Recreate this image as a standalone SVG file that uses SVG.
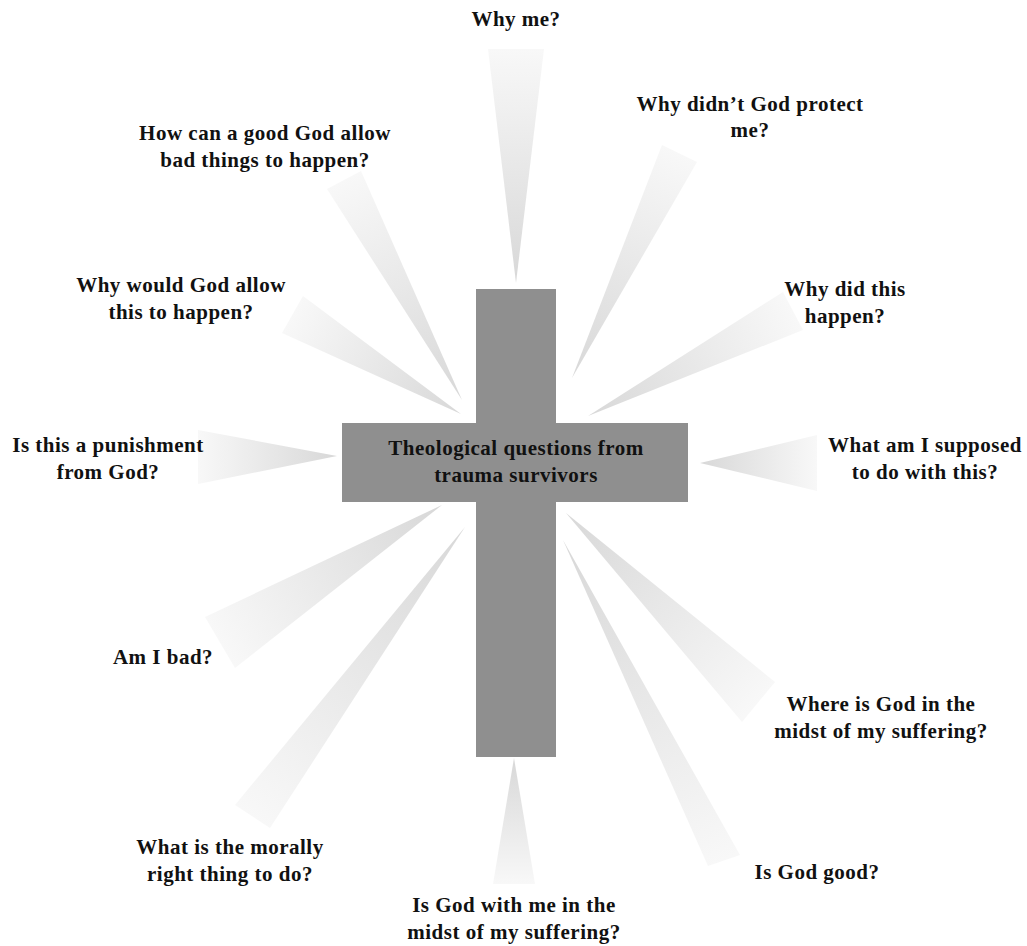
<svg xmlns="http://www.w3.org/2000/svg" xmlns:xlink="http://www.w3.org/1999/xlink" width="1027" height="946" viewBox="0 0 1027 946">
<style>
.t{font-family:"Liberation Serif","Times New Roman",serif;font-weight:bold;font-size:21px;letter-spacing:0.5px;fill:#111;text-anchor:middle}
.ray{stroke:none}
.cross{fill:#8f8f8f}
</style>
<defs>
<linearGradient id="g"><stop offset="0" stop-color="#f8f8f8"/><stop offset="1" stop-color="#d8d8d8"/></linearGradient>
<linearGradient id="g1" href="#g" xlink:href="#g" gradientUnits="userSpaceOnUse" x1="516" y1="49" x2="516" y2="283"/>
<linearGradient id="g2" href="#g" xlink:href="#g" gradientUnits="userSpaceOnUse" x1="679" y1="153" x2="572" y2="378"/>
<linearGradient id="g3" href="#g" xlink:href="#g" gradientUnits="userSpaceOnUse" x1="793" y1="311" x2="588" y2="416"/>
<linearGradient id="g4" href="#g" xlink:href="#g" gradientUnits="userSpaceOnUse" x1="817" y1="463" x2="700" y2="463"/>
<linearGradient id="g5" href="#g" xlink:href="#g" gradientUnits="userSpaceOnUse" x1="758" y1="702" x2="566" y2="513"/>
<linearGradient id="g6" href="#g" xlink:href="#g" gradientUnits="userSpaceOnUse" x1="724" y1="860" x2="563" y2="540"/>
<linearGradient id="g7" href="#g" xlink:href="#g" gradientUnits="userSpaceOnUse" x1="514" y1="884" x2="514" y2="758"/>
<linearGradient id="g8" href="#g" xlink:href="#g" gradientUnits="userSpaceOnUse" x1="252" y1="817" x2="465" y2="527"/>
<linearGradient id="g9" href="#g" xlink:href="#g" gradientUnits="userSpaceOnUse" x1="220" y1="642" x2="442" y2="505"/>
<linearGradient id="g10" href="#g" xlink:href="#g" gradientUnits="userSpaceOnUse" x1="198" y1="457" x2="337" y2="456"/>
<linearGradient id="g11" href="#g" xlink:href="#g" gradientUnits="userSpaceOnUse" x1="292" y1="315" x2="461" y2="414"/>
<linearGradient id="g12" href="#g" xlink:href="#g" gradientUnits="userSpaceOnUse" x1="344" y1="180" x2="462" y2="400"/>
</defs>
<rect width="1027" height="946" fill="#fff"/>
<g id="connectors">
<polygon class="ray" fill="url(#g1)" points="488,49 544,49 516,283"/>
<polygon class="ray" fill="url(#g2)" points="662,145 697,162 572,378"/>
<polygon class="ray" fill="url(#g3)" points="783,292 803,330 588,416"/>
<polygon class="ray" fill="url(#g4)" points="817,435 817,491 700,463"/>
<polygon class="ray" fill="url(#g5)" points="775,682 742,722 566,513"/>
<polygon class="ray" fill="url(#g6)" points="740,855 708,866 563,540"/>
<polygon class="ray" fill="url(#g7)" points="493,884 535,884 514,758"/>
<polygon class="ray" fill="url(#g8)" points="235,805 270,828 465,527"/>
<polygon class="ray" fill="url(#g9)" points="205,617 235,668 442,505"/>
<polygon class="ray" fill="url(#g10)" points="198,430 198,484 337,456"/>
<polygon class="ray" fill="url(#g11)" points="303,296 282,333 461,414"/>
<polygon class="ray" fill="url(#g12)" points="327,189 361,171 462,400"/>
</g>
<g id="center">
<rect class="cross" x="476" y="289" width="80" height="468"/>
<rect class="cross" x="342" y="423" width="346" height="79"/>
<text class="t" x="516" y="455">Theological questions from</text>
<text class="t" x="516" y="482">trauma survivors</text>
</g>
<g id="q1"><text class="t" x="516" y="26">Why me?</text></g>
<g id="q2"><text class="t" x="750" y="111">Why didn’t God protect</text><text class="t" x="750" y="137">me?</text></g>
<g id="q3"><text class="t" x="845" y="296">Why did this</text><text class="t" x="845" y="323">happen?</text></g>
<g id="q4"><text class="t" x="925" y="452">What am I supposed</text><text class="t" x="925" y="479">to do with this?</text></g>
<g id="q5"><text class="t" x="881" y="711">Where is God in the</text><text class="t" x="881" y="738">midst of my suffering?</text></g>
<g id="q6"><text class="t" x="817" y="879">Is God good?</text></g>
<g id="q7"><text class="t" x="514" y="912">Is God with me in the</text><text class="t" x="514" y="939">midst of my suffering?</text></g>
<g id="q8"><text class="t" x="230" y="854">What is the morally</text><text class="t" x="230" y="881">right thing to do?</text></g>
<g id="q9"><text class="t" x="163" y="664">Am I bad?</text></g>
<g id="q10"><text class="t" x="108" y="452">Is this a punishment</text><text class="t" x="108" y="479">from God?</text></g>
<g id="q11"><text class="t" x="181" y="292">Why would God allow</text><text class="t" x="181" y="319">this to happen?</text></g>
<g id="q12"><text class="t" x="265" y="140">How can a good God allow</text><text class="t" x="265" y="167">bad things to happen?</text></g>
</svg>
